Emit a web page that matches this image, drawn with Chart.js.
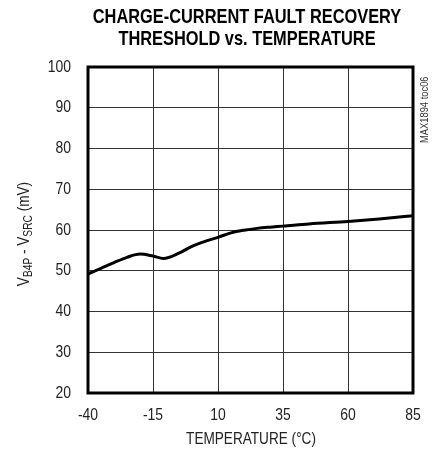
<!DOCTYPE html>
<html>
<head>
<meta charset="utf-8">
<script src="https://cdn.jsdelivr.net/npm/chart.js@4"></script>
<style>
  html, body { margin: 0; padding: 0; background: #fff; }
  #wrap { width: 436px; height: 455px; }
</style>
</head>
<body>
<div id="wrap"><canvas id="myChart" width="436" height="455"></canvas></div>
<script>
// values
const temps = [-40, -35, -30, -25, -20, -15, -11, -5, 0, 5, 10, 15, 20, 25, 30, 35, 45, 60, 72, 85];
const threshold = [49.2, 50.6, 52.0, 53.3, 54.1, 53.6, 53.0, 54.3, 56.0, 57.2, 58.2, 59.3, 59.95, 60.4, 60.7, 60.95, 61.5, 62.1, 62.7, 63.5];
const xTicks = [-40, -15, 10, 35, 60, 85];
const yTicks = [20, 30, 40, 50, 60, 70, 80, 90, 100];

const FONT = "'Liberation Sans', Arial, sans-serif";
const NARROW = 0.82;

// draw text squeezed horizontally to look like a narrow face
function narrowText(ctx, text, x, y, font, align, sx) {
    ctx.save();
    ctx.font = font;
    ctx.textAlign = align;
    ctx.textBaseline = 'middle';
    ctx.translate(x, y);
    ctx.scale(sx, 1);
    ctx.fillText(text, 0, 0);
    ctx.restore();
}

// titles, tick labels, frame, y label with subscripts and the side note
const extras = {
    id: 'extras',
    afterDraw(chart) {
        let ctx = chart.ctx;
        let a = chart.chartArea;
        let xs = chart.scales.x, ys = chart.scales.y;

        ctx.save();
        ctx.strokeStyle = '#000';
        ctx.lineWidth = 3;
        ctx.strokeRect(a.left, a.top, a.right - a.left, a.bottom - a.top);
        ctx.restore();

        ctx.fillStyle = '#000';
        narrowText(ctx, 'CHARGE-CURRENT FAULT RECOVERY', 247, 17, "bold 21px " + FONT, 'center', 0.78);
        narrowText(ctx, 'THRESHOLD vs. TEMPERATURE', 247, 39, "bold 21px " + FONT, 'center', 0.78);

        ctx.fillStyle = '#222';
        xTicks.forEach(v => {
            narrowText(ctx, String(v), xs.getPixelForValue(v), 415, "17px " + FONT, 'center', NARROW);
        });
        yTicks.forEach(v => {
            narrowText(ctx, String(v), 71, ys.getPixelForValue(v), "17px " + FONT, 'right', NARROW);
        });

        narrowText(ctx, 'TEMPERATURE (\u00B0C)', 251, 440, "16px " + FONT, 'center', 0.85);

        // y title, rotated, with subscripts
        ctx.save();
        ctx.translate(25, 234);
        ctx.rotate(-Math.PI / 2);
        ctx.scale(0.85, 1);
        let parts = [
            ['V', false], ['B4P', true], [' - V', false], ['SRC', true], [' (mV)', false]
        ];
        let big = "16px " + FONT, small = "12px " + FONT;
        let total = 0;
        parts.forEach(p => {
            ctx.font = p[1] ? small : big;
            total += ctx.measureText(p[0]).width;
        });
        let x = -total / 2;
        ctx.textAlign = 'left';
        ctx.textBaseline = 'middle';
        parts.forEach(p => {
            ctx.font = p[1] ? small : big;
            ctx.fillText(p[0], x, p[1] ? 4 : 0);
            x += ctx.measureText(p[0]).width;
        });
        ctx.restore();

        // side note, reading bottom to top
        ctx.save();
        ctx.translate(425, 143);
        ctx.rotate(-Math.PI / 2);
        ctx.scale(0.85, 1);
        ctx.font = "11px " + FONT;
        ctx.fillStyle = '#333';
        ctx.textAlign = 'left';
        ctx.textBaseline = 'middle';
        ctx.fillText('MAX1894 toc06', 0, 0);
        ctx.restore();
    }
};

let ctx = document.getElementById('myChart').getContext('2d');
let myChart = new Chart(ctx, {
    type: 'line',
    data: {
        datasets: [{
            data: temps.map((t, i) => ({ x: t, y: threshold[i] })),
            borderColor: '#000',
            borderWidth: 3,
            pointRadius: 0,
            fill: false,
            cubicInterpolationMode: 'monotone'
        }]
    },
    options: {
        responsive: false,
        animation: false,
        layout: { padding: { top: 67, right: 23, bottom: 0, left: 0 } },
        plugins: {
            legend: { display: false },
            tooltip: { enabled: false }
        },
        scales: {
            x: {
                type: 'linear',
                min: -40,
                max: 85,
                afterBuildTicks: s => { s.ticks = xTicks.map(v => ({ value: v })); },
                afterFit: s => { s.height = 62; },
                grid: { color: '#333', lineWidth: 1, drawTicks: false },
                border: { display: false },
                ticks: { display: false }
            },
            y: {
                min: 20,
                max: 100,
                afterBuildTicks: s => { s.ticks = yTicks.map(v => ({ value: v })); },
                afterFit: s => { s.width = 88; },
                grid: { color: '#333', lineWidth: 1, drawTicks: false },
                border: { display: false },
                ticks: { display: false }
            }
        }
    },
    plugins: [extras]
});
</script>
</body>
</html>
